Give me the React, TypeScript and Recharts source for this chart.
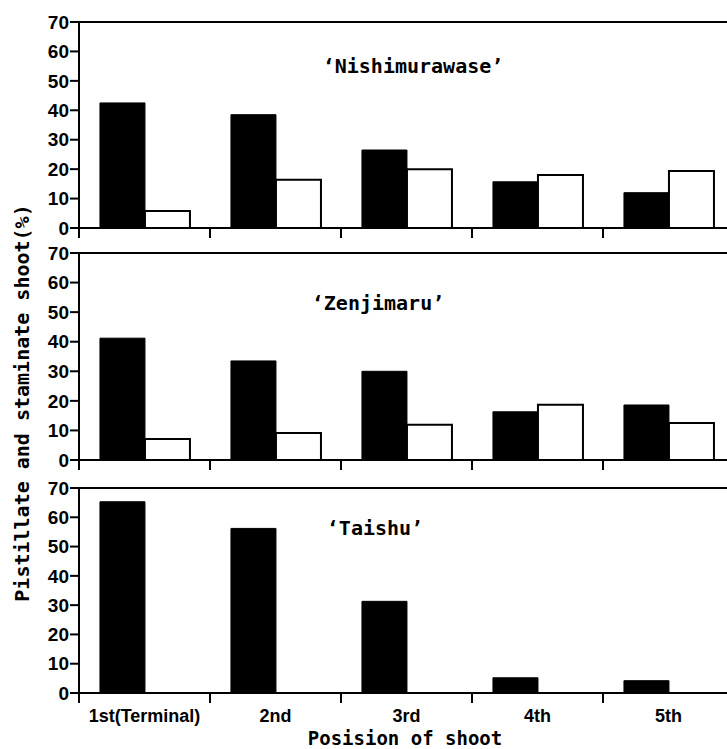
import { BarChart, Bar, XAxis, YAxis, ReferenceLine } from 'recharts'

const positions = ['1st(Terminal)', '2nd', '3rd', '4th', '5th']
const yTicks = [0, 10, 20, 30, 40, 50, 60, 70]

// 'Nishimurawase'
const nishiPistillate = [42.5, 38.5, 26.5, 15.7, 12]
const nishiStaminate = [5.8, 16.4, 20, 18, 19.4]

// 'Zenjimaru'
const zenPistillate = [41.2, 33.5, 30, 16.3, 18.6]
const zenStaminate = [7.1, 9.1, 11.9, 18.7, 12.5]

// 'Taishu'
const taiPistillate = [65.3, 56.2, 31.3, 5.2, 4.2]
const taiStaminate = [0, 0, 0, 0, 0]

const CHART_W = 740
const Y_AXIS_W = 79
const RIGHT_M = 6
const BAND = (CHART_W - Y_AXIS_W - RIGHT_M) / positions.length
const X_TICK = 8

const tickFont = "'Liberation Sans', Arial, sans-serif"
const narrowFont = "'Liberation Sans Narrow', 'Arial Narrow', 'Liberation Sans', sans-serif"
const monoFont = "'DejaVu Sans Mono', 'Liberation Mono', monospace"

const makeRows = (pistillate: number[], staminate: number[]) =>
  positions.map((name, i) => ({ name, pistillate: pistillate[i], staminate: staminate[i] }))

function BoundaryTick(props: any) {
  const { x, y, payload, showLabel } = props
  const axisY = y - X_TICK
  const bx = x - BAND / 2
  return (
    <g>
      <line x1={bx} x2={bx} y1={axisY} y2={axisY + 10} stroke="#000" strokeWidth={2} />
      {showLabel && (
        <text
          x={x}
          y={axisY + 29}
          textAnchor="middle"
          fill="#000"
          fontFamily={tickFont}
          fontWeight="bold"
          fontSize={18}
        >
          {payload.value}
        </text>
      )}
    </g>
  )
}

interface PanelProps {
  rows: { name: string; pistillate: number; staminate: number }[]
  top: number
  height: number
  xAxisHeight: number
  showLabels?: boolean
}

function Panel({ rows, top, height, xAxisHeight, showLabels = false }: PanelProps) {
  return (
    <div style={{ position: 'absolute', left: 0, top }}>
      <BarChart
        width={CHART_W}
        height={height}
        data={rows}
        margin={{ top: 22, right: RIGHT_M, left: 0, bottom: 0 }}
        barCategoryGap="16%"
        barGap={0}
      >
        <XAxis
          dataKey="name"
          height={xAxisHeight}
          axisLine={{ stroke: '#000', strokeWidth: 2 }}
          tickLine={false}
          tickSize={X_TICK}
          tickMargin={0}
          interval={0}
          tick={(p: any) => <BoundaryTick {...p} showLabel={showLabels} />}
        />
        <YAxis
          width={Y_AXIS_W}
          domain={[0, 70]}
          ticks={yTicks}
          interval={0}
          axisLine={{ stroke: '#000', strokeWidth: 2 }}
          tickLine={{ stroke: '#000', strokeWidth: 2 }}
          tickSize={9}
          tickMargin={1}
          tick={{ fill: '#000', fontFamily: narrowFont, fontWeight: 'bold', fontSize: 19 }}
        />
        <ReferenceLine y={70} stroke="#000" strokeWidth={2} />
        <Bar dataKey="pistillate" fill="#000" stroke="#000" strokeWidth={1} isAnimationActive={false} />
        <Bar dataKey="staminate" fill="#fff" stroke="#000" strokeWidth={2} isAnimationActive={false} />
      </BarChart>
    </div>
  )
}

export default function App() {
  return (
    <div
      style={{
        position: 'absolute',
        left: 0,
        top: 0,
        width: 727,
        height: 749,
        overflow: 'hidden',
        background: '#fff',
      }}
    >
      <Panel rows={makeRows(nishiPistillate, nishiStaminate)} top={0} height={240} xAxisHeight={12} />
      <Panel rows={makeRows(zenPistillate, zenStaminate)} top={231} height={241} xAxisHeight={12} />
      <Panel rows={makeRows(taiPistillate, taiStaminate)} top={466} height={283} xAxisHeight={56} showLabels />

      {/* titles and axis captions */}
      <svg
        width={727}
        height={749}
        style={{ position: 'absolute', left: 0, top: 0, pointerEvents: 'none' }}
      >
        <g fontFamily={monoFont} fontWeight="bold" fill="#000">
          <text x={413} y={73} textAnchor="middle" fontSize={20}>‘Nishimurawase’</text>
          <text x={378} y={310} textAnchor="middle" fontSize={20}>‘Zenjimaru’</text>
          <text x={375} y={535} textAnchor="middle" fontSize={20}>‘Taishu’</text>
          <text x={405} y={745} textAnchor="middle" fontSize={19}>Posision of shoot</text>
          <text
            x={0}
            y={0}
            textAnchor="middle"
            fontSize={20}
            transform="translate(29 403) rotate(-90)"
          >
            Pistillate and staminate shoot(%)
          </text>
        </g>
      </svg>
    </div>
  )
}
